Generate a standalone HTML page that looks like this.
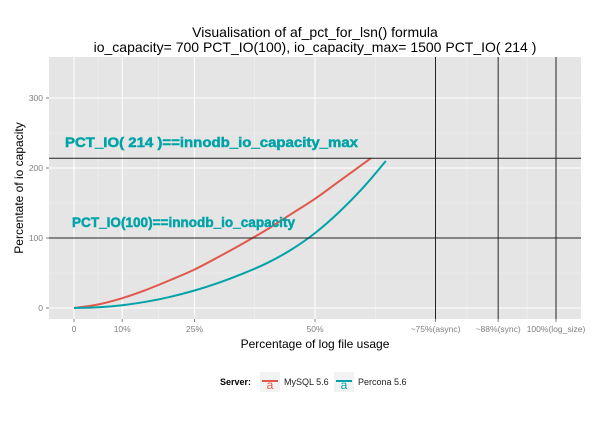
<!DOCTYPE html>
<html><head><meta charset="utf-8"><style>
body{margin:0;background:#fff;font-family:"Liberation Sans",sans-serif}
</style></head><body>
<svg id="c" width="600" height="419" xmlns="http://www.w3.org/2000/svg" font-family="Liberation Sans, sans-serif"></svg>
<script>
const xTicks=[0,10,25,50,75,88,100];
const xTickLabels=["0","10%","25%","50%","~75%(async)","~88%(sync)","100%(log_size)"];
const xMinor=[5,17.5,37.5,62.5,81.5,94];
const yTicks=[0,100,200,300];
const yMinor=[50,150,250];
const vLines=[75,88,100];
const hLines=[100,214];
const mysqlX=[0,5,10,15,20,25,30,35,40,45,50,55,61.6];
const mysqlY=[0,5,14,26,40,55,73,92,112,134,156,181,214];
const perconaX=[0,5,10,15,20,25,30,35,40,45,50,55,60,64.7];
const perconaY=[0,1,4,9,16,25,36,49,64,83,107,137,172,210];
const L=49,R=581,T=57,B=319;
const xs=v=>74+v*4.82, ys=v=>308-v*0.7;
const svg=document.getElementById('c');const NS="http://www.w3.org/2000/svg";
function mk(t,a,p){const e=document.createElementNS(NS,t);for(const k in a)e.setAttribute(k,a[k]);(p||svg).appendChild(e);return e;}
let e=mk('rect',{x:L,y:T,width:R-L,height:B-T,fill:'#e5e5e5'});


xMinor.forEach(v=>{mk('line',{x1:xs(v),x2:xs(v),y1:T,y2:B,stroke:'#f2f2f2','stroke-width':0.5});});
yMinor.forEach(v=>{mk('line',{x1:L,x2:R,y1:ys(v),y2:ys(v),stroke:'#f2f2f2','stroke-width':0.5});});
xTicks.forEach((v,i)=>{mk('line',{x1:xs(v),x2:xs(v),y1:T,y2:B,stroke:'#fff','stroke-width':1});
 mk('line',{x1:xs(v),x2:xs(v),y1:B,y2:B+3,stroke:'#7f7f7f'});
 e=mk('text',{x:xs(v),y:B+13,'text-anchor':'middle','font-size':8.5,fill:'#7f7f7f'});e.textContent=xTickLabels[i];
 
 });
yTicks.forEach(v=>{mk('line',{x1:L,x2:R,y1:ys(v),y2:ys(v),stroke:'#fff','stroke-width':1});
 mk('line',{x1:L-3,x2:L,y1:ys(v),y2:ys(v),stroke:'#7f7f7f'});
 e=mk('text',{x:L-6,y:ys(v)+3,'text-anchor':'end','font-size':8.5,fill:'#7f7f7f'});e.textContent=v;
 
 });
function path(X,Y,c,n){
 const P=X.map((x,i)=>[xs(x),ys(Y[i])]);
 let d='M'+P[0][0]+','+P[0][1];
 for(let i=0;i<P.length-1;i++){
  const p0=P[Math.max(0,i-1)],p1=P[i],p2=P[i+1],p3=P[Math.min(P.length-1,i+2)];
  const c1=[p1[0]+(p2[0]-p0[0])/6,p1[1]+(p2[1]-p0[1])/6];
  const c2=[p2[0]-(p3[0]-p1[0])/6,p2[1]-(p3[1]-p1[1])/6];
  d+='C'+c1[0]+','+c1[1]+' '+c2[0]+','+c2[1]+' '+p2[0]+','+p2[1];
 }
 const p=mk('path',{d:d,fill:'none',stroke:c,'stroke-width':2});
 
 }
path(mysqlX,mysqlY,'#e0584b','mysql-line');
path(perconaX,perconaY,'#00a3a8','percona-line');
vLines.forEach(v=>{e=mk('line',{x1:xs(v),x2:xs(v),y1:T,y2:B,stroke:'#222','stroke-width':1});
 
 });
hLines.forEach(v=>{e=mk('line',{x1:L,x2:R,y1:ys(v),y2:ys(v),stroke:'#222','stroke-width':1});
 
 });
function txt(x,y,s,a,n){const t=mk('text',Object.assign({x:x,y:y},a));t.textContent=s;
 
 return t;}
const ann={'font-size':14,'font-weight':'bold',fill:'#00a3a8',stroke:'#00a3a8','stroke-width':0.5,lengthAdjust:'spacingAndGlyphs'};
txt(65,147,'PCT_IO( 214 )==innodb_io_capacity_max',Object.assign({textLength:293},ann),'annotation-max');
txt(72,227,'PCT_IO(100)==innodb_io_capacity',Object.assign({textLength:223},ann),'annotation-capacity');
txt(315,37,'Visualisation of af_pct_for_lsn() formula',{'text-anchor':'middle','font-size':14},'title-line1');
txt(315,52,'io_capacity= 700 PCT_IO(100), io_capacity_max= 1500 PCT_IO( 214 )',{'text-anchor':'middle','font-size':14},'title-line2');
txt(315,348,'Percentage of log file usage',{'text-anchor':'middle','font-size':12},'x-axis-title');
txt(0,0,'Percentate of io capacity',{'text-anchor':'middle','font-size':12,transform:'translate(23,188) rotate(-90)'},'y-axis-title');
txt(220,385,'Server:',{'font-size':9,'font-weight':'bold'},'legend-title');
[[260,'#e0584b','MySQL 5.6'],[334,'#00a3a8','Percona 5.6']].forEach(([x,c,l])=>{
 const g=mk('g',{});
 mk('rect',{x:x,y:372,width:20,height:20,fill:'#f2f2f2'},g);
 mk('line',{x1:x+2,x2:x+18,y1:381,y2:381,stroke:c,'stroke-width':2},g);
 const a=mk('text',{x:x+10,y:389,'text-anchor':'middle','font-size':12,fill:c},g);a.textContent='a';
 const t=mk('text',{x:x+24,y:385,'font-size':9,fill:'#222'},g);t.textContent=l;});
</script>
</body></html>
